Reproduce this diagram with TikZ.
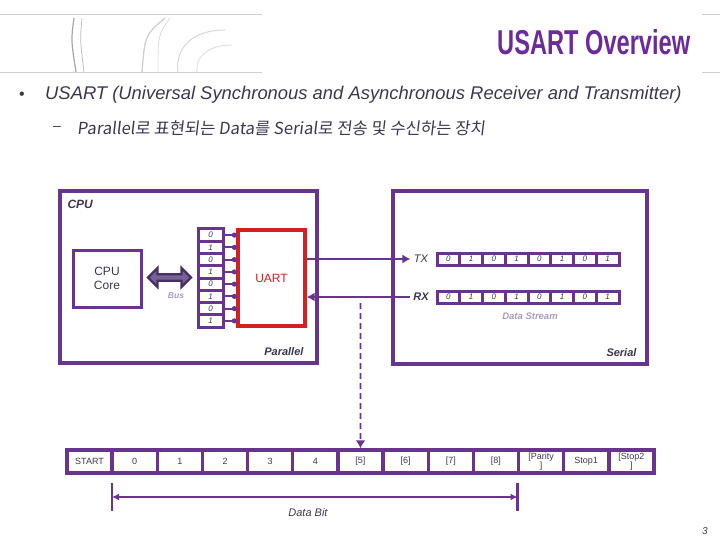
\documentclass[tikz,border=0pt]{standalone}
\usepackage{graphicx}
\usepackage{fontspec}
\setmainfont{Liberation Sans}
\newfontfamily\kr[FakeSlant=0.12]{Noto Sans CJK KR}
\usetikzlibrary{shapes.arrows,arrows.meta}
\definecolor{pur}{RGB}{104,52,142}
\definecolor{title}{RGB}{106,44,154}
\definecolor{txt}{RGB}{62,54,78}
\definecolor{lpur}{RGB}{170,155,195}
\definecolor{ured}{RGB}{212,32,32}
\definecolor{deco}{RGB}{205,205,210}
\definecolor{busfill}{RGB}{118,98,148}
\definecolor{busdraw}{RGB}{72,48,98}
\tikzset{
  box/.style={draw=pur, line width=3.3pt, fill=white},
  regcell/.style={draw=pur, line width=3pt, fill=white, inner sep=0pt, font=\itshape\fontsize{8}{8}\selectfont, text=txt},
  framecell/.style={draw=pur, line width=3.4pt, minimum width=45.15pt, minimum height=23pt, inner sep=0pt, font=\fontsize{9}{8.5}\selectfont, text=txt, align=center},
  lbl/.style={font=\bfseries\itshape\fontsize{11}{11}\selectfont, text=txt},
  conn/.style={draw=pur, line width=1.8pt},
}
\begin{document}
\begin{tikzpicture}[x=1pt,y=-1pt]
\useasboundingbox (0,0) rectangle (720,540);
% header decoration
\draw[deco, line width=1pt] (0,15) -- (262,15);
\draw[deco, line width=1pt] (0,73) -- (262,73);
\draw[deco, line width=1pt] (702,15) -- (720,15);
\draw[deco, line width=1pt] (702,73) -- (720,73);
\draw[gray!70, line width=1.2pt] (74,18) .. controls (71,40) .. (76,72);
\draw[gray!50, line width=0.8pt] (82,18) .. controls (80,40) .. (84,72);
\draw[deco, line width=1.2pt] (165,18) .. controls (145,35) .. (142,72);
\draw[deco!80, line width=1pt] (225,30) .. controls (190,30) and (175,50) .. (178,72);
\draw[deco!60, line width=1pt] (232,45) .. controls (205,45) and (195,60) .. (197,72);
\draw[deco!70, line width=0.8pt] (170,18) .. controls (158,35) .. (158,72);
\node[anchor=west, text=title, inner sep=0pt] (ttl) at (497,42) {\resizebox{193pt}{25pt}{\bfseries USART Overview}};
% bullets
\node[text=txt, font=\fontsize{16}{16}\selectfont] (b1) at (22,96) {•};
\node[anchor=west, text=txt, inner sep=0pt, font=\itshape\fontsize{18.4}{18.4}\selectfont] (t1) at (45,95) {USART (Universal Synchronous and Asynchronous Receiver and Transmitter)};
\node[text=txt, font=\fontsize{14}{14}\selectfont] (b2) at (57,128) {–};
\node[anchor=west, text=txt, inner sep=0pt, font=\kr\fontsize{16.6}{16.6}\selectfont] (t2) at (77,128) {Parallel로 표현되는 Data를 Serial로 전송 및 수신하는 장치};
% CPU box
\node[box, minimum width=257pt, minimum height=172pt] (cpu) at (188.5,277) {};
\node[lbl, font=\bfseries\itshape\fontsize{12}{12}\selectfont, anchor=west] (cpul) at (64,204) {CPU};
\node[box, line width=3pt, minimum width=68pt, minimum height=57pt, align=center, text=txt, font=\fontsize{12}{14}\selectfont] (core) at (107,278.5) {CPU\\Core};
\node[double arrow, draw=busdraw, line width=2.2pt, fill=busfill, minimum height=43pt, minimum width=19pt, double arrow head extend=4pt, inner sep=1pt] (bus) at (169.5,277.5) {};
\node[font=\bfseries\itshape\fontsize{8.5}{8.5}\selectfont, text=lpur] (busl) at (176,296) {Bus};
% parallel register
\foreach \v [count=\i from 0] in {0,1,0,1,0,1,0,1} {
  \node[regcell, minimum width=25pt, minimum height=12.25pt] (p\i) at (210.5,{229+12.25*(\i+0.5)}) {\v};
}
\node[draw=ured, line width=3.3pt, fill=white, minimum width=67pt, minimum height=96pt, text=ured, font=\fontsize{12}{12}\selectfont] (uart) at (271.5,278) {UART};
\foreach \i in {0,...,7} {
  \draw[conn] (p\i.east) -- (p\i -| uart.west);
  \fill[pur] (p\i -| uart.west) ++(-2,0) circle (2.6pt);
}
% Serial box
\node[box, minimum width=254pt, minimum height=173pt] (ser) at (520,277.5) {};
\node[font=\itshape\fontsize{11}{11}\selectfont, text=txt] (txl) at (421,259) {TX};
\node[font=\bfseries\itshape\fontsize{11}{11}\selectfont, text=txt] (rxl) at (421,297) {RX};
\foreach \v [count=\i from 0] in {0,1,0,1,0,1,0,1} {
  \node[regcell, minimum width=22.75pt, minimum height=12pt] (t\i) at ({437+22.75*(\i+0.5)},259) {\v};
  \node[regcell, minimum width=22.75pt, minimum height=12pt] (r\i) at ({437+22.75*(\i+0.5)},297) {\v};
}
\node[font=\bfseries\itshape\fontsize{9.5}{9.5}\selectfont, text=lpur] (dsl) at (530,316) {Data Stream};
\draw[conn, -{Latex[length=8pt,width=9pt]}] (uart.east |- txl) -- (txl.west);
\draw[conn, -{Latex[length=8pt,width=9pt]}] (rxl.west) -- (uart.east |- rxl);
\node[lbl, anchor=east] (parl) at (307,352) {Parallel};
\node[lbl, anchor=east] (serl) at (640,353) {Serial};
% frame
\foreach \v [count=\i from 0] in {START,0,1,2,3,4,[5],[6],[7],[8],{[Parity\\]},Stop1,{[Stop2\\]}} {
  \node[framecell] (c\i) at ({67+45.15*(\i+0.5)},461.5) {\v};
}
\coordinate (dtop) at (360.5,303);
\draw[conn, dashed, dash pattern=on 6pt off 4pt, -{Latex[length=8pt,width=10pt]}] (dtop) -- (c6.north);
% data bit
\coordinate (dl) at (112,497);
\coordinate (dr) at (517.5,497);
\draw[pur, line width=2.8pt] (dl) ++(0,-14) -- ++(0,28);
\draw[pur, line width=2.8pt] (dr) ++(0,-14) -- ++(0,28);
\draw[conn, {Latex[length=7pt,width=7pt]}-{Latex[length=7pt,width=7pt]}] (dl) -- (dr);
\node[font=\itshape\fontsize{11}{11}\selectfont, text=txt] (dbl) at (308,513) {Data Bit};
\node[font=\itshape\fontsize{10}{10}\selectfont, text=txt] (pg) at (705,531) {3};
\end{tikzpicture}
\end{document}
